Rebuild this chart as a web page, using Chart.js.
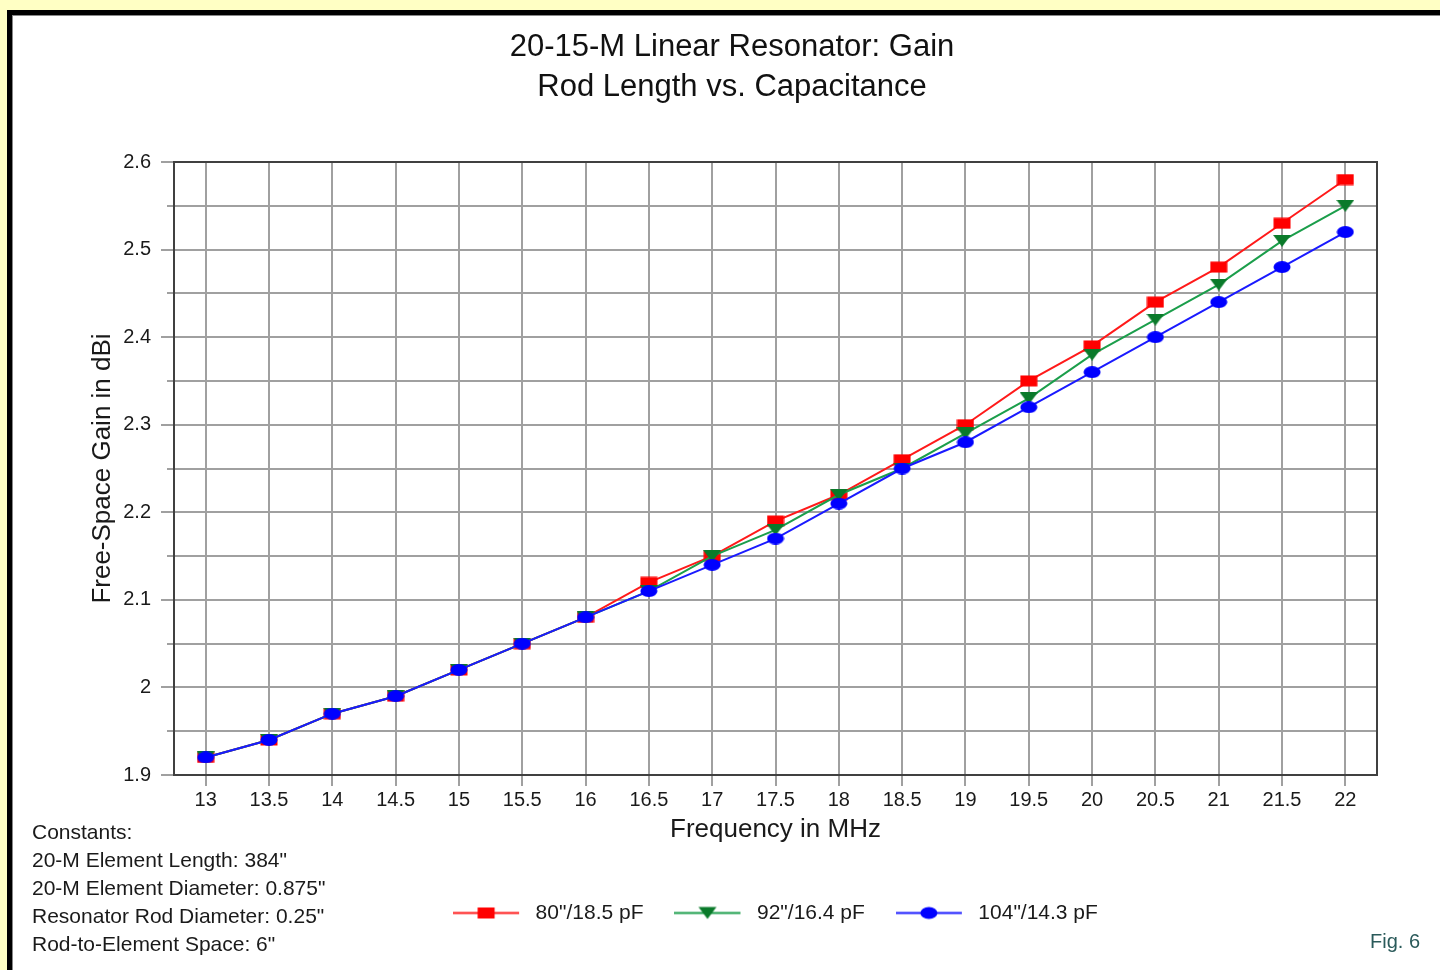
<!DOCTYPE html>
<html>
<head>
<meta charset="utf-8">
<script src="https://cdn.jsdelivr.net/npm/chart.js@4.4.1/dist/chart.umd.min.js"></script>
<style>
html,body{margin:0;padding:0;background:#ffffc4;width:1440px;height:970px;overflow:hidden;font-family:"Liberation Sans",Arial,sans-serif;}
#frame{position:absolute;left:7px;top:10px;width:1440px;height:970px;border-left:5px solid #000;border-top:5px solid #000;background:#fff;box-shadow:inset 1px 1px 0 #888;}
#wrap{position:absolute;left:0;top:0;width:1440px;height:970px;}
.note{position:absolute;left:32px;top:818px;font-size:21px;line-height:28px;color:#1a1a1a;white-space:pre;}
.fig{position:absolute;left:1370px;top:930px;font-size:20px;color:#2a5a5a;}
</style>
</head>
<body>
<div id="frame"></div>
<div id="wrap"><canvas id="c"></canvas></div>
<div class="note">Constants:
20-M Element Length: 384"
20-M Element Diameter: 0.875"
Resonator Rod Diameter: 0.25"
Rod-to-Element Space: 6"</div>
<div class="fig">Fig. 6</div>
<script>
const freqLabels = ['13','13.5','14','14.5','15','15.5','16','16.5','17','17.5','18','18.5','19','19.5','20','20.5','21','21.5','22'];
const gain80  = [1.92,1.94,1.97,1.99,2.02,2.05,2.08,2.12,2.15,2.19,2.22,2.26,2.30,2.35,2.39,2.44,2.48,2.53,2.58];
const gain92  = [1.92,1.94,1.97,1.99,2.02,2.05,2.08,2.11,2.15,2.18,2.22,2.25,2.29,2.33,2.38,2.42,2.46,2.51,2.55];
const gain104 = [1.92,1.94,1.97,1.99,2.02,2.05,2.08,2.11,2.14,2.17,2.21,2.25,2.28,2.32,2.36,2.40,2.44,2.48,2.52];
const seriesNames = ['80"/18.5 pF','92"/16.4 pF','104"/14.3 pF'];
const titleLines = ['20-15-M Linear Resonator: Gain','Rod Length vs. Capacitance'];
const xTitle = 'Frequency in MHz';
const yTitle = 'Free-Space Gain in dBi';
const yMin = 1.9, yMax = 2.6, yStep = 0.05;

const FONT = '"Liberation Sans", Arial, sans-serif';
const lineColors = ['#ff1a1a','#1b9e4b','#1a1aff'];
const markColors = ['#ff0000','#0a7a2a','#0000ff'];

function drawMarker(ctx, kind, cx, cy){
  ctx.fillStyle = markColors[kind];
  ctx.beginPath();
  if (kind === 0) { ctx.rect(cx-8.5, cy-5.5, 17, 11); }
  else if (kind === 1) { ctx.moveTo(cx-9, cy-6); ctx.lineTo(cx+9, cy-6); ctx.lineTo(cx, cy+6); ctx.closePath(); }
  else { ctx.ellipse(cx, cy, 8.5, 6, 0, 0, Math.PI*2); }
  ctx.fill();
}
function markerImage(kind){
  const c = document.createElement('canvas'); c.width = 18; c.height = 12;
  drawMarker(c.getContext('2d'), kind, 9, 6);
  return c;
}
function legendImage(kind){
  const c = document.createElement('canvas'); c.width = 72; c.height = 21;
  const g = c.getContext('2d');
  g.strokeStyle = lineColors[kind]; g.lineWidth = 2;
  g.beginPath(); g.moveTo(0, 10.5); g.lineTo(66, 10.5); g.stroke();
  drawMarker(g, kind, 33, 10.5);
  return c;
}
const markers = [0,1,2].map(markerImage);
const legendIcons = [0,1,2].map(legendImage);

function isMajor(v){ return Math.abs(v*10 - Math.round(v*10)) < 1e-6; }

const framePlugin = {
  id: 'frameBorder',
  beforeDatasetsDraw(chart){
    const {ctx, chartArea:a} = chart;
    ctx.save();
    ctx.strokeStyle = '#404040'; ctx.lineWidth = 2;
    ctx.beginPath();
    ctx.moveTo(a.left, a.top); ctx.lineTo(a.right, a.top); ctx.lineTo(a.right, a.bottom);
    ctx.stroke();
    ctx.restore();
  }
};

const seriesValues = [gain80, gain92, gain104];
new Chart(document.getElementById('c'), {
  type: 'line',
  data: {
    labels: freqLabels,
    datasets: seriesValues.map((vals, i) => ({
      label: seriesNames[i],
      data: vals,
      borderColor: lineColors[i],
      backgroundColor: markColors[i],
      borderWidth: 2,
      tension: 0,
      pointStyle: markers[i],
      pointRadius: 8,
      order: 3 - i
    }))
  },
  options: {
    responsive: true,
    maintainAspectRatio: false,
    animation: false,
    layout: { padding: { left: 87, right: 63, top: 0, bottom: 36.5 } },
    plugins: {
      tooltip: { enabled: false },
      title: {
        display: true,
        text: titleLines,
        color: '#111',
        font: { family: FONT, size: 31, weight: 'normal', lineHeight: 1.3 },
        padding: { top: 27, bottom: 54.4 }
      },
      legend: {
        position: 'bottom',
        fullSize: false,
        labels: {
          usePointStyle: true,
          pointStyleWidth: 72,
          padding: 31,
          color: '#1a1a1a',
          font: { family: FONT, size: 21 },
          sort: (a, b) => a.datasetIndex - b.datasetIndex,
          generateLabels(chart){
            const items = Chart.defaults.plugins.legend.labels.generateLabels(chart);
            items.forEach(it => { it.pointStyle = legendIcons[it.datasetIndex]; });
            return items;
          }
        }
      }
    },
    scales: {
      x: {
        type: 'category',
        offset: true,
        afterFit(s){ s.height = 96.5; },
        grid: { offset: false, color: '#a0a0a0', lineWidth: 2, tickLength: 11, tickColor: '#a0a0a0', tickWidth: 2 },
        border: { color: '#404040', width: 2 },
        ticks: { color: '#1a1a1a', font: { family: FONT, size: 20 }, padding: 2, maxRotation: 0, autoSkip: false },
        title: { display: true, text: xTitle, color: '#1a1a1a', font: { family: FONT, size: 26, lineHeight: 1.2 }, padding: { top: 0, bottom: 26.4 } }
      },
      y: {
        type: 'linear',
        min: yMin, max: yMax,
        afterFit(s){ s.width = 87; },
        grid: {
          color: '#a0a0a0', lineWidth: 2, tickLength: 13, tickColor: '#a0a0a0', tickWidth: 2,
          tickBorderDash: c => (c.tick && isMajor(c.tick.value)) ? [] : [0, 6, 7, 30]
        },
        border: { color: '#404040', width: 2 },
        ticks: {
          stepSize: yStep, autoSkip: false, padding: 10, color: '#1a1a1a',
          font: { family: FONT, size: 20 },
          callback: v => isMajor(v) ? String(Math.round(v*10)/10) : ''
        },
        title: { display: true, text: yTitle, color: '#1a1a1a', font: { family: FONT, size: 26, lineHeight: 1.2 }, padding: { top: 0.4, bottom: 0 } }
      }
    }
  },
  plugins: [framePlugin]
});
</script>
</body>
</html>
